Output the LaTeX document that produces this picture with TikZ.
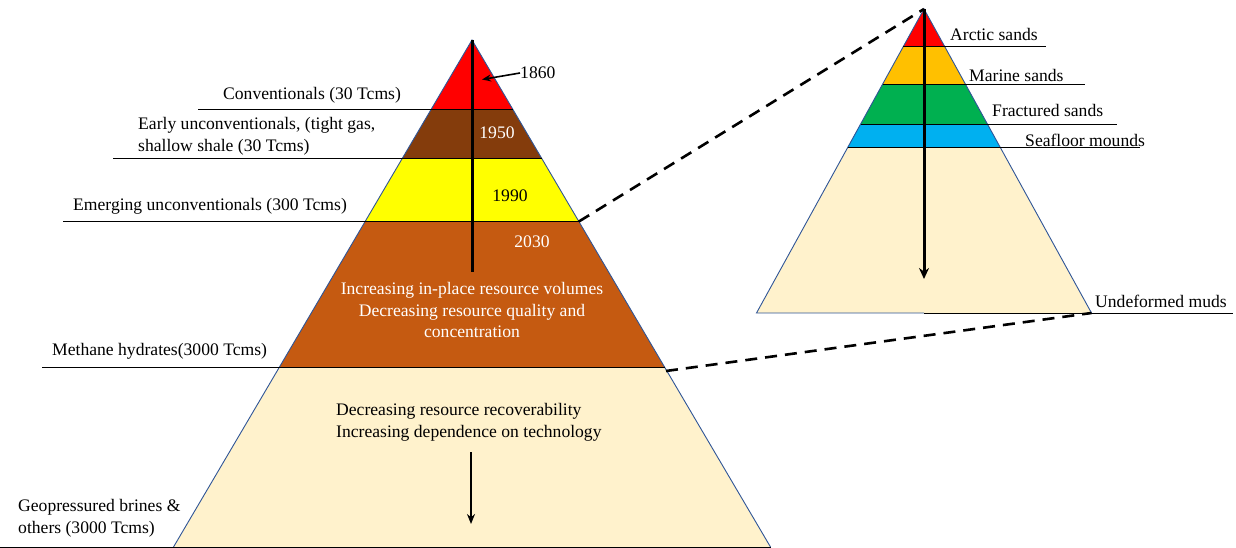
\documentclass[tikz,border=0pt]{standalone}
\usepackage{fontspec}
\setmainfont{Liberation Serif}
\usetikzlibrary{arrows.meta}
\definecolor{cRed}{HTML}{FF0000}
\definecolor{cBrown}{HTML}{843C0C}
\definecolor{cYellow}{HTML}{FFFF00}
\definecolor{cOrange}{HTML}{C55A11}
\definecolor{cBeige}{HTML}{FFF2CC}
\definecolor{cGold}{HTML}{FFC000}
\definecolor{cGreen}{HTML}{00B050}
\definecolor{cBlue}{HTML}{00B0F0}
\definecolor{cEdge}{HTML}{2F5597}
\begin{document}
\begin{tikzpicture}[x=1pt,y=-1pt,
  lbl/.style={font=\fontsize{17.6}{21.8}\selectfont, inner sep=0pt, align=left},
  wlbl/.style={lbl, text=white, align=center},
  layerline/.style={line width=1pt, black},
  edge/.style={line width=0.9pt, cEdge},
  axis/.style={line width=3pt, black},
  zoomline/.style={line width=2.6pt, dashed, dash pattern=on 12pt off 8pt}]
\useasboundingbox (0,0) rectangle (1236,548);
% ---------- big pyramid ----------
\coordinate (A) at (472,40);
\fill[cRed] (A) -- (513.2,110) -- (430.8,110) -- cycle;
\fill[cBrown] (430.8,110) -- (513.2,110) -- (541.8,158.5) -- (402.2,158.5) -- cycle;
\fill[cYellow] (402.2,158.5) -- (541.8,158.5) -- (578.9,221.5) -- (365.1,221.5) -- cycle;
\fill[cOrange] (365.1,221.5) -- (578.9,221.5) -- (664.5,367) -- (279.5,367) -- cycle;
\fill[cBeige] (279.5,367) -- (664.5,367) -- (770.5,547) -- (173.5,547) -- cycle;
\draw[edge] (173.5,547) -- (A) -- (770.5,547);
% layer / label lines
\draw[layerline] (198,110) -- (513.2,110);
\draw[layerline] (113,158.5) -- (541.8,158.5);
\draw[layerline] (63,221.5) -- (578.9,221.5);
\draw[layerline] (42,367) -- (664.5,367);
\draw[layerline] (0,547) -- (770.5,547);
\coordinate (BR) at (578.9,221.5);
\coordinate (OR) at (666,371);
% labels
\node[lbl, anchor=west] (conv) at (223,95) {Conventionals (30 Tcms)};
\node[lbl, anchor=west] (early) at (138,136) {Early unconventionals, (tight gas,\\shallow shale (30 Tcms)};
\node[lbl, anchor=west] (emerg) at (73,206) {Emerging unconventionals (300 Tcms)};
\node[lbl, anchor=west] (meth) at (52,351) {Methane hydrates(3000 Tcms)};
\node[lbl, anchor=west] (geo) at (18,518) {Geopressured brines \&\\others (3000 Tcms)};
% axis
\coordinate (axend) at (472,272);
\draw[axis] (A) -- (axend);
\node[lbl, anchor=west] (y1860) at (520,73) {1860};
\coordinate (p1860) at (482,79.5);
\draw[line width=1.6pt, -{Stealth[length=9pt,width=7pt]}] (y1860.west) -- (p1860);
\node[lbl, text=white, anchor=center] (y1950) at (497,133) {1950};
\node[lbl, anchor=center] (y1990) at (510,196) {1990};
\node[lbl, text=white, anchor=center] (y2030) at (532,242) {2030};
\node[wlbl] (inc) at (472,310) {Increasing in-place resource volumes\\Decreasing resource quality and\\concentration};
\node[lbl, anchor=west] (dec) at (336,422) {Decreasing resource recoverability\\Increasing dependence on technology};
\coordinate (arA) at (471,452);
\coordinate (arB) at (471,524);
\draw[line width=1.8pt, -{Stealth[length=10pt,width=8pt]}] (arA) -- (arB);
% ---------- small pyramid ----------
\coordinate (S) at (924,9);
\fill[cRed] (S) -- (944.8,46.7) -- (903.2,46.7) -- cycle;
\fill[cGold] (903.2,46.7) -- (944.8,46.7) -- (965.5,84.3) -- (882.5,84.3) -- cycle;
\fill[cGreen] (882.5,84.3) -- (965.5,84.3) -- (987.5,124.3) -- (860.5,124.3) -- cycle;
\fill[cBlue] (860.5,124.3) -- (987.5,124.3) -- (1000.4,147.7) -- (847.6,147.7) -- cycle;
\fill[cBeige] (847.6,147.7) -- (1000.4,147.7) -- (1091.5,313) -- (756.5,313) -- cycle;
\draw[edge] (1091.5,313) -- (S) -- (756.5,313) -- (924,313);
\draw[layerline] (903.2,46.7) -- (1046,46.7);
\draw[layerline] (882.5,84.3) -- (1085,84.3);
\draw[layerline] (860.5,124.3) -- (1117,124.3);
\draw[layerline] (847.6,147.7) -- (1140,147.7);
\draw[layerline] (924,313) -- (1233,313);
\coordinate (SR) at (1091.5,313);
\node[lbl, anchor=west] (arctic) at (950,34) {Arctic sands};
\node[lbl, anchor=west] (marine) at (969,75) {Marine sands};
\node[lbl, anchor=west] (fract) at (992,110) {Fractured sands};
\node[lbl, anchor=west] (sea) at (1025,140) {Seafloor mounds};
\node[lbl, anchor=west] (undef) at (1095,301) {Undeformed muds};
\coordinate (sax) at (924,279);
\draw[axis, -{Stealth[length=11pt,width=10pt]}] (S) -- (sax);
% ---------- zoom connectors ----------
\draw[zoomline] (BR) -- (S);
\draw[zoomline] (OR) -- (SR);
\end{tikzpicture}
\end{document}
